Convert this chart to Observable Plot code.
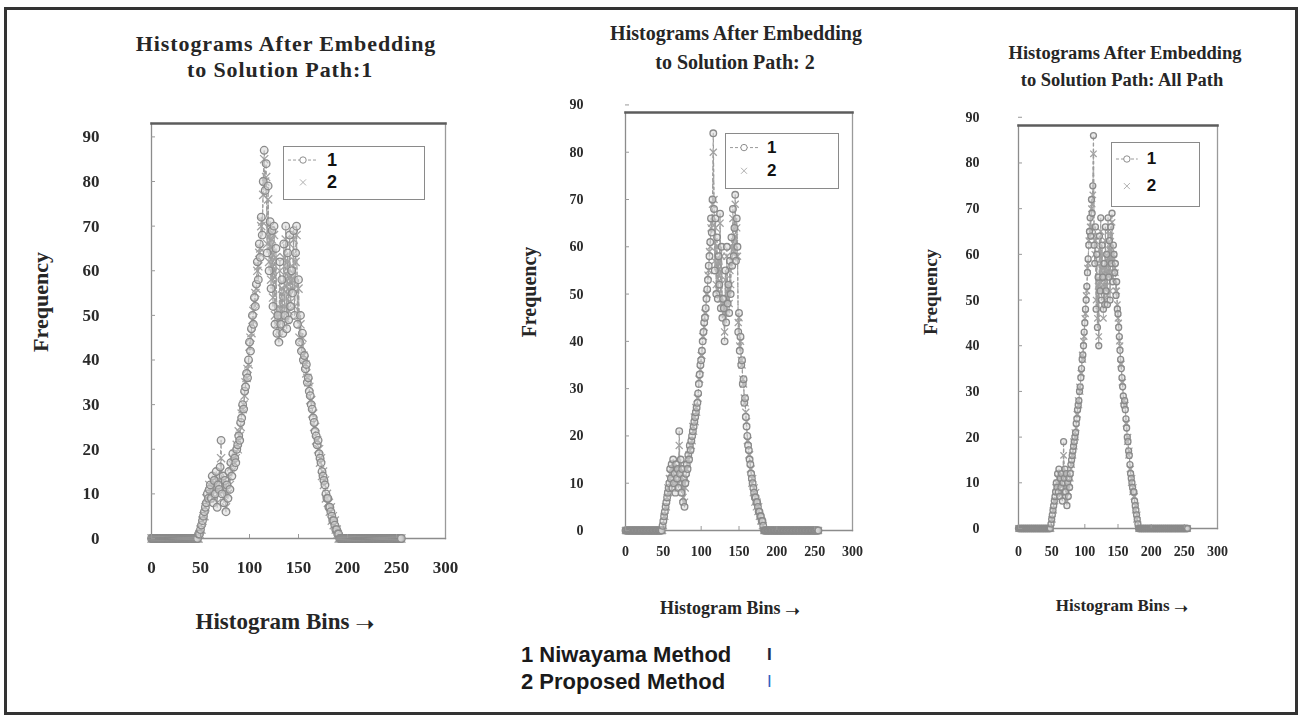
<!DOCTYPE html>
<html><head><meta charset="utf-8">
<script src="https://cdn.jsdelivr.net/npm/d3@7"></script>
<script src="https://cdn.jsdelivr.net/npm/@observablehq/plot@0.6"></script>
<style>
html,body{margin:0;padding:0;background:#fff;}
#page{position:relative;width:1302px;height:721px;overflow:hidden;background:#fff;}
#border{position:absolute;left:4px;top:7px;width:1288px;height:702px;border:3px solid #333;}
.t{position:absolute;white-space:nowrap;transform:translate(-50%,-50%);font-family:"Liberation Serif","DejaVu Serif",serif;font-weight:bold;color:#262626;}
.rot{transform:translate(-50%,-50%) rotate(-90deg);}
.leg{position:absolute;background:#fff;border:1px solid #8a8a8a;}
.legtxt{position:absolute;font-family:"Liberation Sans",Arial,sans-serif;font-weight:bold;color:#111;transform:translateY(-50%);}
.bl{position:absolute;font-family:"Liberation Sans",Arial,sans-serif;font-weight:bold;font-size:22px;color:#1a1a1a;transform:translateY(-50%);white-space:nowrap;}
</style></head><body><div id="page"><div id="border"></div></div>
<script>
// ---------------- data ----------------
const X_TICKS = [0, 50, 100, 150, 200, 250, 300];
const Y_TICKS = [0, 10, 20, 30, 40, 50, 60, 70, 80, 90];
const TITLES = [
  ["Histograms After Embedding", "to Solution Path:1"],
  ["Histograms After Embedding", "to Solution Path: 2"],
  ["Histograms After Embedding", "to Solution Path: All Path"]
];
const SERIES_NAMES = ["1", "2"];
const METHOD_NAMES = ["1 Niwayama Method", "2 Proposed Method"];

// Frequencies per histogram bin 0..255 (rows of 16 bins)
const P1_NIWAYAMA = [
  0,0,0,0,0,0,0,0,0,0,0,0,0,0,0,0,
  0,0,0,0,0,0,0,0,0,0,0,0,0,0,0,0,
  0,0,0,0,0,0,0,0,0,0,0,0,0,0,0,0,
  1,1,2,3,4,5,6,7,8,10,9,11,12,9,14,8,
  13,10,15,7,12,11,16,22,10,14,8,13,6,12,9,15,
  11,17,14,19,16,18,17,20,21,23,22,26,27,30,29,33,
  34,37,36,40,44,42,47,50,48,54,52,57,62,58,66,63,
  72,68,80,87,78,84,64,79,60,71,56,69,52,70,48,65,
  46,50,44,62,48,58,46,66,50,70,47,64,49,68,52,60,
  55,69,50,64,70,48,58,44,50,42,46,40,41,38,39,35,
  36,33,32,30,29,27,26,24,23,21,22,19,18,17,15,14,
  13,12,10,9,9,7,7,6,5,4,4,3,2,2,1,1,
  0,0,0,0,0,0,0,0,0,0,0,0,0,0,0,0,
  0,0,0,0,0,0,0,0,0,0,0,0,0,0,0,0,
  0,0,0,0,0,0,0,0,0,0,0,0,0,0,0,0,
  0,0,0,0,0,0,0,0,0,0,0,0,0,0,0,0
];
const P1_PROPOSED = [
  0,0,0,0,0,0,0,0,0,0,0,0,0,0,0,0,
  0,0,0,0,0,0,0,0,0,0,0,0,0,0,0,0,
  0,0,0,0,0,0,0,0,0,0,0,0,0,0,0,0,
  0,1,2,2,4,5,5,7,9,9,10,12,11,10,13,9,
  12,11,14,8,13,10,15,18,11,13,9,12,7,11,10,14,
  12,16,15,18,17,19,18,21,20,24,23,25,28,29,30,32,
  35,36,38,39,43,45,46,49,51,53,55,56,60,61,64,65,
  70,71,77,85,80,81,66,76,62,69,58,67,54,68,50,63,
  48,52,45,60,49,56,47,63,52,67,49,62,51,66,53,58,
  56,67,52,62,68,50,56,45,48,43,45,41,40,39,37,36,
  35,34,31,31,28,28,25,25,22,22,20,20,17,18,14,15,
  12,13,9,10,8,8,6,7,4,5,3,4,2,2,1,0,
  0,0,0,0,0,0,0,0,0,0,0,0,0,0,0,0,
  0,0,0,0,0,0,0,0,0,0,0,0,0,0,0,0,
  0,0,0,0,0,0,0,0,0,0,0,0,0,0,0,0,
  0,0,0,0,0,0,0,0,0,0,0,0,0,0,0,0
];
const P2_NIWAYAMA = [
  0,0,0,0,0,0,0,0,0,0,0,0,0,0,0,0,
  0,0,0,0,0,0,0,0,0,0,0,0,0,0,0,0,
  0,0,0,0,0,0,0,0,0,0,0,0,0,0,0,0,
  0,1,2,3,4,5,6,7,8,9,10,13,11,14,9,15,
  10,12,8,14,11,13,9,21,12,15,8,13,6,11,5,10,
  12,14,13,16,15,18,17,19,20,21,22,23,24,25,26,27,
  29,31,33,35,36,38,40,42,44,45,47,49,51,53,56,58,
  61,66,63,70,84,68,55,66,50,62,49,58,52,67,47,60,
  45,49,47,40,55,44,60,48,52,46,57,50,62,56,68,58,
  64,71,57,66,60,42,46,38,41,35,36,31,32,27,28,24,
  22,20,18,17,15,14,12,11,10,9,8,7,7,6,6,5,
  4,4,3,3,2,2,1,0,0,0,0,0,0,0,0,0,
  0,0,0,0,0,0,0,0,0,0,0,0,0,0,0,0,
  0,0,0,0,0,0,0,0,0,0,0,0,0,0,0,0,
  0,0,0,0,0,0,0,0,0,0,0,0,0,0,0,0,
  0,0,0,0,0,0,0,0,0,0,0,0,0,0,0,0
];
const P2_PROPOSED = [
  0,0,0,0,0,0,0,0,0,0,0,0,0,0,0,0,
  0,0,0,0,0,0,0,0,0,0,0,0,0,0,0,0,
  0,0,0,0,0,0,0,0,0,0,0,0,0,0,0,0,
  0,0,1,3,3,5,5,7,9,8,11,12,12,13,10,14,
  11,11,9,13,12,12,10,18,13,14,9,12,7,10,6,9,
  11,13,14,15,16,17,18,18,19,22,21,24,23,26,25,28,
  28,32,32,34,37,37,41,41,43,46,46,50,50,54,55,59,
  60,64,65,69,80,70,57,64,52,60,51,57,54,65,49,58,
  47,48,46,42,53,46,58,49,51,48,55,52,60,57,66,59,
  62,69,58,64,58,44,45,39,40,36,35,32,31,28,27,25,
  23,19,19,16,16,13,13,10,11,8,9,6,8,5,6,4,
  5,3,3,2,2,1,1,0,0,0,0,0,0,0,0,0,
  0,0,0,0,0,0,0,0,0,0,0,0,0,0,0,0,
  0,0,0,0,0,0,0,0,0,0,0,0,0,0,0,0,
  0,0,0,0,0,0,0,0,0,0,0,0,0,0,0,0,
  0,0,0,0,0,0,0,0,0,0,0,0,0,0,0,0
];
const P3_NIWAYAMA = [
  0,0,0,0,0,0,0,0,0,0,0,0,0,0,0,0,
  0,0,0,0,0,0,0,0,0,0,0,0,0,0,0,0,
  0,0,0,0,0,0,0,0,0,0,0,0,0,0,0,0,
  0,1,2,3,4,5,6,7,8,10,9,12,8,13,7,11,
  9,12,6,10,19,11,13,8,12,5,10,7,11,9,12,14,
  15,16,17,18,19,20,21,23,24,26,27,28,30,31,33,35,
  37,38,40,43,45,48,50,53,56,59,62,65,68,64,72,69,
  75,86,62,58,66,48,60,44,55,40,64,52,68,50,62,55,
  48,58,49,66,52,60,49,68,55,63,50,66,58,69,54,62,
  60,56,58,51,54,48,47,44,42,39,37,35,33,31,29,27,
  28,26,24,22,20,19,17,16,14,12,11,10,9,8,8,6,
  5,4,3,2,1,0,0,0,0,0,0,0,0,0,0,0,
  0,0,0,0,0,0,0,0,0,0,0,0,0,0,0,0,
  0,0,0,0,0,0,0,0,0,0,0,0,0,0,0,0,
  0,0,0,0,0,0,0,0,0,0,0,0,0,0,0,0,
  0,0,0,0,0,0,0,0,0,0,0,0,0,0,0,0
];
const P3_PROPOSED = [
  0,0,0,0,0,0,0,0,0,0,0,0,0,0,0,0,
  0,0,0,0,0,0,0,0,0,0,0,0,0,0,0,0,
  0,0,0,0,0,0,0,0,0,0,0,0,0,0,0,0,
  0,0,2,2,4,4,6,6,9,9,10,11,9,12,8,10,
  10,11,7,11,16,12,12,9,11,6,9,8,10,10,11,13,
  14,16,16,19,18,21,20,22,25,25,28,27,31,30,34,34,
  38,37,41,42,46,47,51,52,57,58,63,64,66,66,70,71,
  73,82,64,60,63,50,58,46,53,42,61,54,65,52,60,57,
  46,57,50,63,53,58,51,65,56,61,52,64,59,67,55,60,
  59,57,56,52,52,49,46,45,41,40,36,36,32,32,28,28,
  27,27,23,23,19,20,16,17,13,13,10,11,8,9,7,7,
  4,5,2,3,1,0,0,0,0,0,0,0,0,0,0,0,
  0,0,0,0,0,0,0,0,0,0,0,0,0,0,0,0,
  0,0,0,0,0,0,0,0,0,0,0,0,0,0,0,0,
  0,0,0,0,0,0,0,0,0,0,0,0,0,0,0,0,
  0,0,0,0,0,0,0,0,0,0,0,0,0,0,0,0
];
const Y_MAX = [93, 88.4, 88.2];

// ---------------- layout ----------------
const page = document.getElementById("page");
function addText(cls, html, x, y, css) {
  const d = document.createElement("div");
  d.className = cls;
  d.innerHTML = html;
  d.style.left = x + "px"; d.style.top = y + "px";
  Object.assign(d.style, css || {});
  page.appendChild(d);
  return d;
}

const PANELS = [
  {niw: P1_NIWAYAMA, pro: P1_PROPOSED, yMax: Y_MAX[0], frame: [151, 123, 445, 538], sl: 0, st: 95, mr: 22, mb: 45, fs: 17, xPad: 26, yPad: 56, r: 3.8,
   t1: [286, 44, 22, 0.9], t2: [280, 70], fq: [41, 302, 22], hb: [285, 621, 23], leg: [283, 146, 140, 52], legFs: 18},
  {niw: P2_NIWAYAMA, pro: P2_PROPOSED, yMax: Y_MAX[1], frame: [625, 112, 852, 530], sl: 470, st: 90, mr: 22, mb: 40, fs: 14, xPad: 20, yPad: 46, r: 3.3,
   t1: [736, 33, 20, 0], t2: [735, 62], fq: [529, 292, 20], hb: [730, 608, 18], leg: [725, 133, 112, 54], legFs: 17},
  {niw: P3_NIWAYAMA, pro: P3_PROPOSED, yMax: Y_MAX[2], frame: [1018, 125, 1217, 528], sl: 880, st: 100, mr: 22, mb: 40, fs: 14, xPad: 22, yPad: 43, r: 3.0,
   t1: [1125, 53, 18.5, 0], t2: [1122, 80], fq: [931, 292, 19], hb: [1122, 605, 17], leg: [1111, 142, 87, 63], legFs: 17}
];

PANELS.forEach((p, k) => {
  const niwRows = p.niw.map((v, i) => ({bin: i, freq: v, method: SERIES_NAMES[0]}));
  const proRows = p.pro.map((v, i) => ({bin: i, freq: v, method: SERIES_NAMES[1]}));
  const [x0, y0, x1, y1] = p.frame;
  const chart = Plot.plot({
    width: x1 - p.sl + p.mr,
    height: y1 - p.st + p.mb,
    marginLeft: x0 - p.sl,
    marginTop: y0 - p.st,
    marginRight: p.mr,
    marginBottom: p.mb,
    x: {domain: [0, 300]},
    y: {domain: [0, p.yMax]},
    style: {fontFamily: "'Liberation Serif', serif", fontWeight: "bold", fontSize: p.fs + "px", color: "#2a2a2a", background: "transparent", overflow: "visible"},
    marks: [
      Plot.frame({anchor: "left", stroke: "#8c8c8c", strokeWidth: 1.3}),
      Plot.frame({anchor: "right", stroke: "#9a9a9a", strokeWidth: 1.3}),
      Plot.frame({anchor: "bottom", stroke: "#8c8c8c", strokeWidth: 1.3}),
      Plot.frame({anchor: "top", stroke: "#5c5c5c", strokeWidth: 2.6}),
      Plot.line(proRows, {x: "bin", y: "freq", stroke: "#b0b0b0", strokeWidth: 1.2, strokeDasharray: "2,2.5"}),
      Plot.line(niwRows, {x: "bin", y: "freq", stroke: "#9c9c9c", strokeWidth: 1.2, strokeDasharray: "3,3"}),
      Plot.dot(proRows, {x: "bin", y: "freq", symbol: "times", r: p.r, stroke: "#a2a2a2", strokeWidth: 1.3}),
      Plot.dot(niwRows, {x: "bin", y: "freq", symbol: "circle", r: p.r, stroke: "#8a8a8a", fill: "#d6d6d6", fillOpacity: 0.5, strokeWidth: 1.3}),
      Plot.axisX({ticks: X_TICKS, tickSize: -4, tickPadding: p.xPad, stroke: "#999", label: null}),
      Plot.axisY({ticks: Y_TICKS, tickSize: -4, tickPadding: p.yPad, stroke: "#999", label: null})
    ]
  });
  chart.style.position = "absolute";
  chart.style.left = p.sl + "px";
  chart.style.top = p.st + "px";
  chart.style.maxWidth = "none";
  chart.style.filter = "blur(0.35px)";
  page.appendChild(chart);

  // titles
  addText("t", TITLES[k][0], p.t1[0], p.t1[1], {fontSize: p.t1[2] + "px", letterSpacing: p.t1[3] + "px"});
  addText("t", TITLES[k][1], p.t2[0], p.t2[1], {fontSize: p.t1[2] + "px", letterSpacing: p.t1[3] + "px"});
  // axis titles
  addText("t rot", "Frequency", p.fq[0], p.fq[1], {fontSize: p.fq[2] + "px"});
  addText("t", 'Histogram Bins <span style="font-size:1em;position:relative;top:3px;font-family:\'DejaVu Sans\',sans-serif">&#10141;</span>', p.hb[0], p.hb[1], {fontSize: p.hb[2] + "px"});

  // in-plot legend box
  const [lx, ly, lw, lh] = p.leg;
  const box = document.createElement("div");
  box.className = "leg";
  Object.assign(box.style, {left: lx + "px", top: ly + "px", width: lw + "px", height: lh + "px"});
  page.appendChild(box);
  const sw = Math.min(30, lw * 0.25);
  const sym = document.createElement("div");
  sym.style.position = "absolute";
  sym.style.left = (lx + 5) + "px";
  sym.style.top = ly + "px";
  sym.innerHTML = `<svg width="${sw}" height="${lh}" style="overflow:visible">
    <line x1="0" x2="${sw}" y1="${lh * 0.27}" y2="${lh * 0.27}" stroke="#9a9a9a" stroke-dasharray="3,2"/>
    <circle cx="${sw / 2}" cy="${lh * 0.27}" r="3.2" fill="#fff" stroke="#8e8e8e"/>
    <line x1="${sw / 2 - 3}" x2="${sw / 2 + 3}" y1="${lh * 0.7 - 3}" y2="${lh * 0.7 + 3}" stroke="#b0b0b0"/>
    <line x1="${sw / 2 - 3}" x2="${sw / 2 + 3}" y1="${lh * 0.7 + 3}" y2="${lh * 0.7 - 3}" stroke="#b0b0b0"/>
  </svg>`;
  page.appendChild(sym);
  addText("legtxt", SERIES_NAMES[0], lx + sw + 14, ly + lh * 0.27, {fontSize: p.legFs + "px"});
  addText("legtxt", SERIES_NAMES[1], lx + sw + 14, ly + lh * 0.7, {fontSize: p.legFs + "px"});
});

// bottom legend
addText("bl", METHOD_NAMES[0], 521, 655);
addText("bl", METHOD_NAMES[1], 521, 682);
addText("bl", "I", 767, 655, {fontSize: "17px", color: "#1c2440"});
addText("bl", "I", 767, 682, {fontSize: "17px", color: "#2e62c0", fontWeight: "normal"});
</script></body></html>
